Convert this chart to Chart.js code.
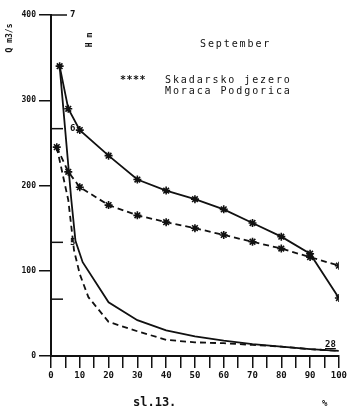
<!DOCTYPE html>
<html>
<head>
<meta charset="utf-8">
<script src="https://cdn.jsdelivr.net/npm/chart.js@4"></script>
<style>
  body { margin: 0; background: #fff; }
  #wrap { position: relative; width: 349px; height: 409px; }
  .t { position: absolute; font-family: "DejaVu Sans Mono", monospace; color: #111; white-space: pre; line-height: 1; }
</style>
</head>
<body>
<div id="wrap">
  <canvas id="chart" width="349" height="409"></canvas>
  <div class="t" style="left:200px;top:39px;font-size:10px;letter-spacing:1.9px;">September</div>
  <div class="t" style="left:120px;top:75px;font-size:10px;font-weight:bold;letter-spacing:0.5px;">****</div>
  <div class="t" style="left:165px;top:75px;font-size:10px;letter-spacing:1.9px;">Skadarsko jezero</div>
  <div class="t" style="left:165px;top:86px;font-size:10px;letter-spacing:1.9px;">Moraca Podgorica</div>
  <div class="t" style="left:-4px;top:34px;font-size:8px;font-weight:bold;transform:rotate(-90deg);">Q m3/s</div>
  <div class="t" style="left:83px;top:36px;font-size:8px;font-weight:bold;transform:rotate(-90deg);">H m</div>
  <div class="t" style="left:325px;top:340px;font-size:9px;font-weight:bold;text-decoration:underline;">28</div>
  <div class="t" style="left:133px;top:396px;font-size:12px;font-weight:bold;">sl.13.</div>
  <div class="t" style="left:322px;top:399px;font-size:9px;font-weight:bold;">%</div>
</div>
<script>
// values (x in %, y in m3/s)
const xUpperSolid = [3, 6, 10, 20, 30, 40, 50, 60, 70, 80, 90, 100];
const yUpperSolid = [340, 290, 265, 235, 207, 194, 184, 172, 156, 140, 120, 68];
const xUpperDashed = [2, 6, 10, 20, 30, 40, 50, 60, 70, 80, 90, 100];
const yUpperDashed = [245, 216, 198, 177, 165, 157, 150, 142, 134, 126, 116, 106];
const xLowerSolid = [3, 7, 8.5, 11, 20, 30, 40, 50, 60, 70, 80, 90, 100];
const yLowerSolid = [340, 185, 135, 110, 63, 42, 30, 23, 18, 14, 11, 8, 6];
const xLowerDashed = [2, 4, 6, 8, 10, 13, 20, 30, 40, 50, 60, 70, 80, 90, 100];
const yLowerDashed = [245, 214, 183, 124, 96, 69, 40, 29, 19, 16, 15, 13, 11, 8, 6];
const leftTicks = [0, 100, 200, 300, 400];
const rightTicks = [7, 6, 5, 4.5];
const rightLabels = { 7: "7", 6: "6", 5: "5" };

const pts = (xs, ys) => xs.map((x, i) => ({ x: x, y: ys[i] }));

const line = (data, dashed, stars) => ({
    data: data,
    borderColor: "#111",
    borderWidth: 1.8,
    borderDash: dashed ? [6, 4] : [],
    pointStyle: "star",
    pointRadius: stars ? 4 : 0,
    pointBorderColor: "#111",
    pointBorderWidth: 1.6,
    tension: 0,
    fill: false
});

// secondary scale drawn on the inside of the y axis
const secondAxis = {
    id: "secondAxis",
    afterDraw(chart) {
        const ctx = chart.ctx;
        const s = chart.scales.y2;
        const x0 = chart.chartArea.left;
        ctx.save();
        ctx.strokeStyle = "#111";
        ctx.lineWidth = 1.5;
        ctx.fillStyle = "#111";
        ctx.font = "bold 9px 'DejaVu Sans Mono'";
        ctx.textBaseline = "middle";
        rightTicks.forEach(v => {
            const y = s.getPixelForValue(v);
            ctx.beginPath();
            ctx.moveTo(x0, y);
            ctx.lineTo(x0 + (v === 7 ? 16 : 12), y);
            ctx.stroke();
            if (rightLabels[v]) ctx.fillText(rightLabels[v], x0 + 19, y);
        });
        ctx.restore();
    }
};

new Chart(document.getElementById("chart"), {
    type: "line",
    data: {
        datasets: [
            line(pts(xUpperSolid, yUpperSolid), false, true),
            line(pts(xUpperDashed, yUpperDashed), true, true),
            line(pts(xLowerSolid, yLowerSolid), false, false),
            line(pts(xLowerDashed, yLowerDashed), true, false)
        ]
    },
    options: {
        responsive: false,
        animation: false,
        layout: { padding: { top: 15, right: 9, left: 0, bottom: 0 } },
        plugins: { legend: { display: false }, tooltip: { enabled: false } },
        scales: {
            x: {
                type: "linear",
                min: 0,
                max: 100,
                afterFit: s => { s.height = 53; },
                afterBuildTicks: s => { s.ticks = Array.from({ length: 21 }, (_, i) => ({ value: i * 5 })); },
                ticks: {
                    autoSkip: false,
                    maxRotation: 0,
                    padding: 2,
                    color: "#111",
                    font: { family: "DejaVu Sans Mono", size: 9, weight: "bold" },
                    callback: v => (v % 10 === 0 ? v : "")
                },
                grid: { drawOnChartArea: false, color: "#111", lineWidth: 1.5, tickLength: 12 },
                border: { color: "#111", width: 2 }
            },
            y: {
                min: 0,
                max: 400,
                afterFit: s => { s.width = 51; },
                afterBuildTicks: s => { s.ticks = leftTicks.map(v => ({ value: v })); },
                ticks: {
                    padding: 3,
                    color: "#111",
                    font: { family: "DejaVu Sans Mono", size: 8, weight: "bold" }
                },
                grid: { drawOnChartArea: false, color: "#111", lineWidth: 1.5, tickLength: 12 },
                border: { color: "#111", width: 2 }
            },
            y2: { min: 4, max: 7, display: false }
        }
    },
    plugins: [secondAxis]
});
</script>
</body>
</html>
